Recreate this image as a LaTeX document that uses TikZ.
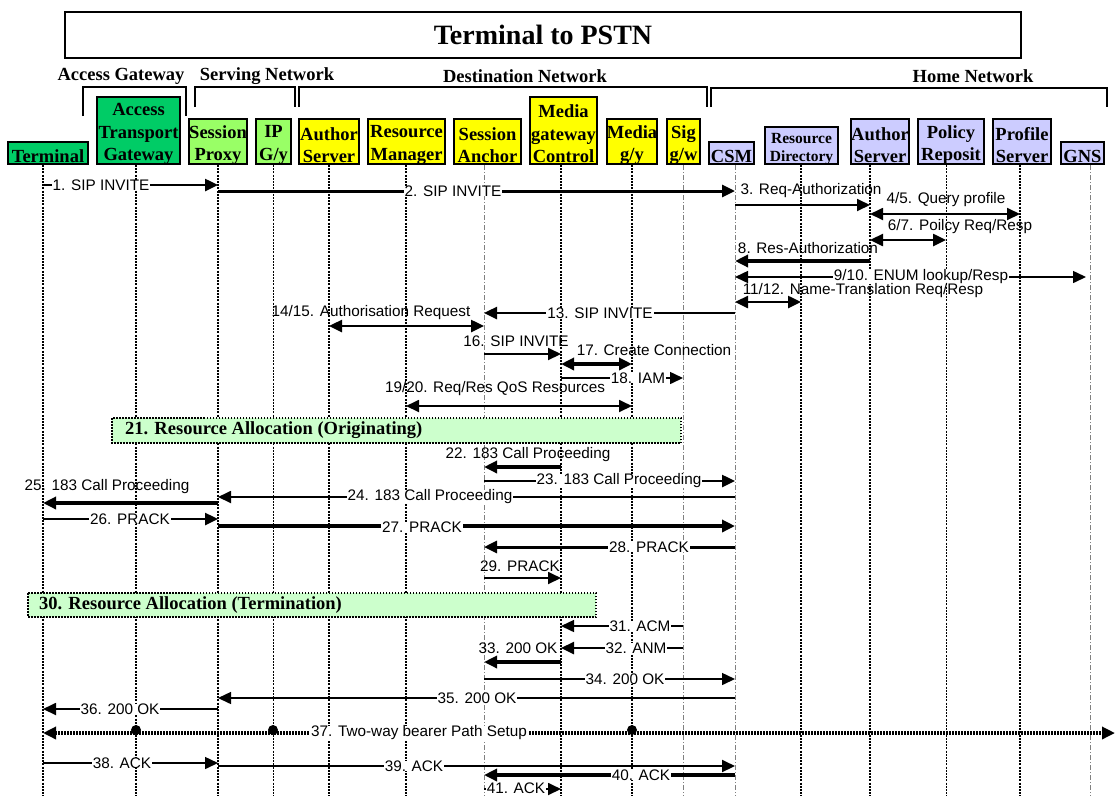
\documentclass[tikz,border=0pt]{standalone}
\usepackage{fontspec}
\setmainfont{Liberation Serif}
\newfontfamily\arialfont{Liberation Sans}
\usetikzlibrary{arrows.meta}
\definecolor{dkgreen}{RGB}{0,204,102}
\definecolor{ltgreen}{RGB}{153,255,102}
\definecolor{yel}{RGB}{255,255,0}
\definecolor{lav}{RGB}{204,204,255}
\definecolor{pale}{RGB}{204,255,204}
\newcommand\msgline[4]{\draw[#1] ([yshift=-#4pt]#2) -- ([yshift=-#4pt]#3);}
\newcommand\hdr[7][]{\node[hbox, fill=#3, minimum width=#4, minimum height=#5] (#2) at (#6) {};
  \node[htxt, #1] (#2tx) at ([yshift=-3.5pt]#2.center) {#7};}
\begin{document}
\begin{tikzpicture}[x=1pt,y=-1pt,
  >={Triangle[length=13pt,width=12pt]},
  hbox/.style={draw=black, line width=1.3pt, inner sep=0pt},
  htxt/.style={inner sep=0pt, align=center, font=\bfseries\fontsize{18.5}{22.5}\selectfont},
  grp/.style={inner sep=0pt, font=\bfseries\fontsize{18.5}{22}\selectfont},
  lifeA/.style={line width=1.5pt, dash pattern=on 2pt off 1.2pt},
  lifeB/.style={line width=0.9pt, dash pattern=on 2pt off 1.2pt},
  lifeC/.style={line width=0.6pt, gray, dash pattern=on 5pt off 2pt on 1pt off 2pt},
  m/.style={->, line width=#1},
  mm/.style={<->, line width=#1},
  lbl/.style={fill=white, inner xsep=1pt, inner ysep=0pt, font=\arialfont\fontsize{15.3}{17}\selectfont},
  lbla/.style={inner sep=0pt, font=\arialfont\fontsize{15.3}{17}\selectfont},
  alloc/.style={draw=black, line width=1.2pt, dash pattern=on 1.5pt off 1.5pt, fill=pale},
  brk/.style={line width=1.4pt}
]
\useasboundingbox (0,0) rectangle (1115,796);
\fill[white] (0,0) rectangle (1115,796);

% title
\node[draw, line width=1.3pt, minimum width=956pt, minimum height=46pt, inner sep=0pt,
  font=\bfseries\fontsize{28}{32}\selectfont] (title) at (543,35) {Terminal to PSTN};

% groups
\node[grp] (gAG) at (121,76) {Access Gateway};
\node[grp] (gSN) at (267,76) {Serving Network};
\node[grp] (gDN) at (525,76) {Destination Network};
\node[grp] (gHN) at (973,76) {Home Network};
\draw[brk] (83,116) -- (83,87) -- (186,87) -- (186,116);
\draw[brk] (195,107) -- (195,87) -- (295,87) -- (295,107);
\draw[brk] (299,107) -- (299,87) -- (707,87) -- (707,107);
\draw[brk] (711,107) -- (711,88) -- (1107,88) -- (1107,107);

% header boxes
\hdr{term}{dkgreen}{80pt}{22pt}{48,153}{Terminal}
\hdr{atg}{dkgreen}{83pt}{67pt}{138.5,130.5}{Access\\Transport\\Gateway}
\hdr{sp}{ltgreen}{58pt}{45pt}{218,141.5}{Session\\Proxy}
\hdr{ip}{ltgreen}{35pt}{45pt}{273.5,141.5}{IP\\G/y}
\hdr{as}{yel}{60pt}{45pt}{329,141.5}{Author\\Server}
\hdr{rm}{yel}{77pt}{45pt}{406.5,141.5}{Resource\\Manager}
\hdr{sa}{yel}{67pt}{45pt}{487.5,141.5}{Session\\Anchor}
\hdr{mgc}{yel}{67pt}{67pt}{563.5,130.5}{Media\\gateway\\Control}
\hdr{med}{yel}{50pt}{45pt}{632,141.5}{Media\\g/y}
\hdr{sig}{yel}{33pt}{45pt}{683.5,141.5}{Sig\\g/w}
\hdr{csm}{lav}{45pt}{22pt}{731.5,153}{CSM}
\hdr[font=\bfseries\fontsize{15.5}{18}\selectfont]{rd}{lav}{73pt}{37pt}{801.5,145.5}{Resource\\Directory}
\hdr{as2}{lav}{58pt}{45pt}{880,141.5}{Author\\Server}
\hdr{pr}{lav}{66pt}{45pt}{951,141.5}{Policy\\Reposit}
\hdr{ps}{lav}{58pt}{45pt}{1022,141.5}{Profile\\Server}
\hdr{gns}{lav}{43pt}{22pt}{1082.5,153}{GNS}

% lifeline anchors
\coordinate (Lterm) at (43,0);
\coordinate (Latg) at (136,0);
\coordinate (Lsp) at (218,0);
\coordinate (Lip) at (273,0);
\coordinate (Las) at (329,0);
\coordinate (Lrm) at (406,0);
\coordinate (Lsa) at (484,0);
\coordinate (Lmgc) at (561,0);
\coordinate (Lmed) at (632,0);
\coordinate (Lsig) at (683,0);
\coordinate (Lcsm) at (735,0);
\coordinate (Lrd) at (801,0);
\coordinate (Las2) at (870,0);
\coordinate (Lpr) at (946,0);
\coordinate (Lps) at (1020,0);
\coordinate (Lgns) at (1090,0);
\coordinate (Ledge) at (1115,0);

% lifelines
\draw[lifeA] ([yshift=-165pt]Lterm) -- ([yshift=-796pt]Lterm);
\draw[lifeA] ([yshift=-165pt]Latg) -- ([yshift=-796pt]Latg);
\draw[lifeA] ([yshift=-165pt]Lsp) -- ([yshift=-796pt]Lsp);
\draw[lifeB] ([yshift=-165pt]Lip) -- ([yshift=-796pt]Lip);
\draw[lifeA] ([yshift=-165pt]Las) -- ([yshift=-796pt]Las);
\draw[lifeA] ([yshift=-165pt]Lrm) -- ([yshift=-796pt]Lrm);
\draw[lifeC] ([yshift=-165pt]Lsa) -- ([yshift=-796pt]Lsa);
\draw[lifeA] ([yshift=-165pt]Lmgc) -- ([yshift=-796pt]Lmgc);
\draw[lifeA] ([yshift=-165pt]Lmed) -- ([yshift=-796pt]Lmed);
\draw[lifeC] ([yshift=-165pt]Lsig) -- ([yshift=-796pt]Lsig);
\draw[lifeC] ([yshift=-165pt]Lcsm) -- ([yshift=-796pt]Lcsm);
\draw[lifeA] ([yshift=-165pt]Lrd) -- ([yshift=-796pt]Lrd);
\draw[lifeA] ([yshift=-165pt]Las2) -- ([yshift=-796pt]Las2);
\draw[lifeB] ([yshift=-165pt]Lpr) -- ([yshift=-796pt]Lpr);
\draw[lifeA] ([yshift=-165pt]Lps) -- ([yshift=-796pt]Lps);
\draw[lifeC] ([yshift=-165pt]Lgns) -- ([yshift=-796pt]Lgns);

% messages
\msgline{m=2.5pt}{Lterm}{Lsp}{185}
\node[lbl] (t1) at (101,185) {1. SIP INVITE};
\msgline{m=3pt}{Lsp}{Lcsm}{191}
\node[lbl] (t2) at (453,191) {2. SIP INVITE};
\msgline{m=1.8pt}{Lcsm}{Las2}{205}
\node[lbla] (t3) at (811,191) {3. Req-Authorization};
\msgline{mm=1.8pt}{Las2}{Lps}{214}
\node[lbla] (t4) at (946,200) {4/5. Query profile};
\msgline{mm=2.5pt}{Las2}{Lpr}{240}
\node[lbla] (t6) at (960,227) {6/7. Poilcy Req/Resp};
\msgline{m=3.5pt}{Las2}{Lcsm}{261}
\node[lbla] (t8) at (808,248) {8. Res-Authorization};
\draw[mm=1.5pt] ([yshift=-277pt]Lcsm) -- ([yshift=-277pt,xshift=-4pt]Lgns);
\node[lbl] (t9) at (921,277) {9/10. ENUM lookup/Resp};
\msgline{mm=2.5pt}{Lcsm}{Lrd}{302}
\node[lbla] (t11) at (863,291) {11/12. Name-Translation Req/Resp};
\msgline{m=2.5pt}{Lcsm}{Lsa}{313}
\node[lbl] (t13) at (600,313) {13. SIP INVITE};
\msgline{mm=2.5pt}{Las}{Lsa}{326}
\node[lbla] (t14) at (371,313) {14/15. Authorisation Request};
\msgline{m=2pt}{Lsa}{Lmgc}{354}
\node[lbla] (t16) at (516,341) {16. SIP INVITE};
\msgline{mm=3.5pt}{Lmgc}{Lmed}{364}
\node[lbla] (t17) at (654,350) {17. Create Connection};
\msgline{m=1.5pt}{Lmgc}{Lsig}{378}
\node[lbl] (t18) at (638,378) {18. IAM};
\msgline{mm=1.8pt}{Lrm}{Lmed}{406}
\node[lbla] (t19) at (495,389) {19/20. Req/Res QoS Resources};

\draw[alloc] (112,418) rectangle (681,443);
\node[grp, anchor=west] (a21) at (125,430.5) {21. Resource Allocation (Originating)};

\msgline{m=3.5pt}{Lmgc}{Lsa}{467}
\node[lbla] (t22) at (528,455) {22. 183 Call Proceeding};
\msgline{m=2.5pt}{Lsa}{Lcsm}{481}
\node[lbl] (t23) at (619,481) {23. 183 Call Proceeding};
\msgline{m=1.8pt}{Lcsm}{Lsp}{497}
\node[lbl] (t24) at (430,497) {24. 183 Call Proceeding};
\msgline{m=3.5pt}{Lsp}{Lterm}{503}
\node[lbla] (t25) at (107,487) {25. 183 Call Proceeding};
\msgline{m=2.5pt}{Lterm}{Lsp}{519}
\node[lbl] (t26) at (130,519) {26. PRACK};
\msgline{m=3.5pt}{Lsp}{Lcsm}{526}
\node[lbl] (t27) at (422,527) {27. PRACK};
\msgline{m=3pt}{Lcsm}{Lsa}{547}
\node[lbl] (t28) at (649,547) {28. PRACK};
\msgline{m=1.8pt}{Lsa}{Lmgc}{578}
\node[lbla] (t29) at (520,566) {29. PRACK};

\draw[alloc] (28,593) rectangle (596,617);
\node[grp, anchor=west] (a30) at (39,605) {30. Resource Allocation (Termination)};

\msgline{m=1.5pt}{Lsig}{Lmgc}{626}
\node[lbl] (t31) at (640,626) {31. ACM};
\msgline{m=2.5pt}{Lsig}{Lmgc}{648}
\node[lbl] (t32) at (636,648) {32. ANM};
\msgline{m=3.5pt}{Lmgc}{Lsa}{662}
\node[lbla] (t33) at (518,648) {33. 200 OK};
\msgline{m=1.5pt}{Lsa}{Lcsm}{679}
\node[lbl] (t34) at (625,679) {34. 200 OK};
\msgline{m=1.5pt}{Lcsm}{Lsp}{698}
\node[lbl] (t35) at (477,698) {35. 200 OK};
\msgline{m=1.8pt}{Lsp}{Lterm}{709}
\node[lbl] (t36) at (120,709) {36. 200 OK};

\draw[<->, line width=3.5pt, dash pattern=on 1.5pt off 1.5pt] ([yshift=-733pt]Lterm) -- ([yshift=-733pt]Ledge);
\fill ([yshift=-730pt]Latg) circle (5pt);
\fill ([yshift=-730pt]Lip) circle (5pt);
\fill ([yshift=-730pt]Lmed) circle (5pt);
\node[lbl] (t37) at (419,733) {37. Two-way bearer Path Setup};

\msgline{m=1.5pt}{Lterm}{Lsp}{763}
\node[lbl] (t38) at (122,763) {38. ACK};
\msgline{m=2pt}{Lsp}{Lcsm}{766}
\node[lbl] (t39) at (414,766) {39. ACK};
\msgline{m=3.5pt}{Lcsm}{Lsa}{775}
\node[lbl] (t40) at (641,775) {40. ACK};
\msgline{m=1.8pt}{Lsa}{Lmgc}{789}
\node[lbl] (t41) at (516,788) {41. ACK};
\end{tikzpicture}
\end{document}
